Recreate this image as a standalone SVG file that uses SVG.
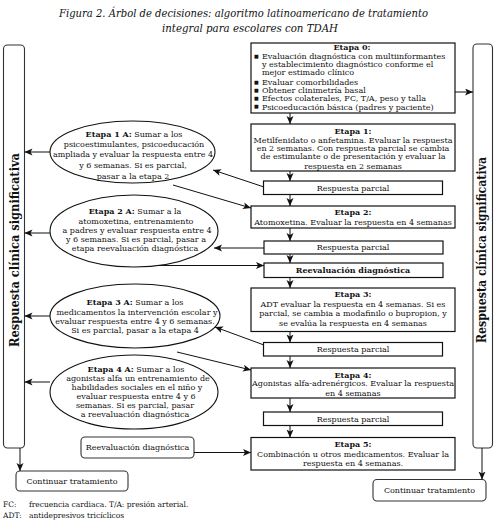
<svg xmlns="http://www.w3.org/2000/svg" width="497" height="521" viewBox="0 0 497 521">
<style>
text{font-family:"DejaVu Serif","Liberation Serif",serif;fill:#111;}
.t{font-size:8px;}
.c{text-anchor:middle;}
.b{font-weight:bold;}
.bul{font-size:5px;}
.title{font-size:11px;font-style:italic;}
.vert{font-size:12px;font-weight:bold;text-anchor:middle;}
.foot{font-size:7.5px;}
.box{fill:#fff;stroke:#111;stroke-width:1.2;}
.rbox{fill:#fff;stroke:#333;stroke-width:1.1;}
.ell{fill:#fff;stroke:#111;stroke-width:1.1;}
.con line{stroke:#111;stroke-width:1;marker-end:url(#ah);}
</style>
<defs>
<marker id="ah" markerUnits="userSpaceOnUse" markerWidth="9" markerHeight="8" refX="8" refY="3.5" orient="auto">
<path d="M0,0 L8,3.5 L0,7 L2,3.5 z" fill="#111"/>
</marker>
</defs>
<rect width="497" height="521" fill="#fff"/>

<g id="title">
<text class="title" x="59" y="17" textLength="369" lengthAdjust="spacingAndGlyphs">Figura 2. Árbol de decisiones: algoritmo latinoamericano de tratamiento</text>
<text class="title" x="162" y="32" textLength="176" lengthAdjust="spacingAndGlyphs">integral para escolares con TDAH</text>
</g>

<g id="left-bar">
<rect class="rbox" x="3.5" y="45" width="21" height="403" rx="4"/>
<text class="vert" transform="translate(19,250) rotate(-90)" textLength="194" lengthAdjust="spacingAndGlyphs">Respuesta  clínica  significativa</text>
</g>
<g id="right-bar">
<rect class="rbox" x="473" y="44" width="19.5" height="404" rx="4"/>
<text class="vert" transform="translate(486,250) rotate(-90)" textLength="186" lengthAdjust="spacingAndGlyphs">Respuesta  clínica  significativa</text>
</g>

<g id="etapa0">
<rect class="box" x="251" y="43" width="204" height="70"/>
<text class="t b c" x="352" y="49.5">Etapa 0:</text>
<g class="t">
<text class="bul" x="254" y="57.5">■</text><text x="262" y="59">Evaluación diagnóstica con multiinformantes</text>
<text x="262" y="67">y establecimiento diagnóstico conforme el</text>
<text x="262" y="75">mejor estimado clínico</text>
<text class="bul" x="254" y="83.5">■</text><text x="262" y="85">Evaluar comorbilidades</text>
<text class="bul" x="254" y="91.5">■</text><text x="262" y="93">Obtener clinimetría basal</text>
<text class="bul" x="254" y="99.5">■</text><text x="262" y="101">Efectos colaterales, FC, T/A, peso y talla</text>
<text class="bul" x="254" y="108">■</text><text x="262" y="109.5">Psicoeducación básica (padres y paciente)</text>
</g>
</g>

<g id="etapa1">
<rect class="box" x="251" y="124" width="204" height="47"/>
<text class="t b c" x="353" y="133.5">Etapa 1:</text>
<text class="t c" x="353" y="143">Metilfenidato o anfetamina. Evaluar la respuesta</text>
<text class="t c" x="353" y="151">en 2 semanas. Con respuesta parcial se cambia</text>
<text class="t c" x="353" y="159">de estimulante o de presentación y evaluar la</text>
<text class="t c" x="353" y="168.5">respuesta en 2 semanas</text>
</g>

<g id="rp1">
<rect class="box" x="263.5" y="181" width="179" height="13.5"/>
<text class="t c" x="353" y="190.5">Respuesta parcial</text>
</g>

<g id="etapa2">
<rect class="box" x="251" y="206" width="204" height="22"/>
<text class="t b c" x="353" y="214.5">Etapa 2:</text>
<text class="t c" x="353" y="225">Atomoxetina. Evaluar la respuesta en 4 semanas</text>
</g>

<g id="rp2">
<rect class="box" x="264" y="241" width="179" height="13"/>
<text class="t c" x="353" y="250.3">Respuesta parcial</text>
</g>

<g id="reevaluacion">
<rect class="box" x="264" y="263" width="179" height="14.5"/>
<text class="t b c" x="353" y="273">Reevaluación diagnóstica</text>
</g>

<g id="etapa3">
<rect class="box" x="251" y="288" width="204" height="43.5"/>
<text class="t b c" x="353" y="297">Etapa 3:</text>
<text class="t c" x="353" y="307">ADT evaluar la respuesta en 4 semanas. Si es</text>
<text class="t c" x="353" y="316.3">parcial, se cambia a modafinilo o bupropion, y</text>
<text class="t c" x="353" y="326">se evalúa la respuesta en 4 semanas</text>
</g>

<g id="rp3">
<rect class="box" x="263.5" y="342.5" width="179" height="13.5"/>
<text class="t c" x="353" y="352.3">Respuesta parcial</text>
</g>

<g id="etapa4">
<rect class="box" x="251" y="368" width="204" height="30"/>
<text class="t b c" x="353" y="378">Etapa 4:</text>
<text class="t c" x="353" y="386.3">Agonistas alfa-adrenérgicos. Evaluar la respuesta</text>
<text class="t c" x="353" y="395.7">en 4 semanas</text>
</g>

<g id="rp4">
<rect class="box" x="263.5" y="412" width="179" height="13.5"/>
<text class="t c" x="353" y="421.7">Respuesta parcial</text>
</g>

<g id="etapa5">
<rect class="box" x="251" y="437.5" width="204" height="32.5"/>
<text class="t b c" x="353" y="447">Etapa 5:</text>
<text class="t c" x="353" y="457">Combinación u otros medicamentos.  Evaluar la</text>
<text class="t c" x="353" y="465.7">respuesta en 4 semanas.</text>
</g>

<g id="etapa1A">
<ellipse class="ell" cx="132.5" cy="152" rx="82.5" ry="31"/>
<text class="t c" x="134" y="137"><tspan class="b">Etapa 1 A:</tspan> Sumar  a los</text>
<text class="t c" x="134" y="147.3">psicoestimulantes, psicoeducación</text>
<text class="t c" x="133" y="157.3" textLength="160" lengthAdjust="spacingAndGlyphs">ampliada y evaluar la respuesta entre 4</text>
<text class="t c" x="133" y="168">y 6 semanas. Si es parcial,</text>
<text class="t c" x="133" y="178.6">pasar a la etapa 2</text>
</g>

<g id="etapa2A">
<ellipse class="ell" cx="134" cy="231" rx="84" ry="36"/>
<text class="t c" x="135" y="213.7"><tspan class="b">Etapa 2 A:</tspan> Sumar  a la</text>
<text class="t c" x="136" y="223.5">atomoxetina, entrenamiento</text>
<text class="t c" x="137" y="233">a padres y evaluar respuesta entre 4</text>
<text class="t c" x="136" y="242">y 6 semanas. Si es parcial, pasar a</text>
<text class="t c" x="135" y="251.2">etapa reevaluación diagnóstica</text>
</g>

<g id="etapa3A">
<ellipse class="ell" cx="135" cy="316" rx="85" ry="32"/>
<text class="t c" x="135" y="305.2"><tspan class="b">Etapa 3 A:</tspan> Sumar a  los</text>
<text class="t c" x="137" y="314.5">medicamentos la intervención escolar y</text>
<text class="t c" x="135" y="323.5">evaluar respuesta entre 4 y 6 semanas.</text>
<text class="t c" x="135" y="333">Si es parcial, pasar a la etapa 4</text>
</g>

<g id="etapa4A">
<ellipse class="ell" cx="134" cy="392" rx="84" ry="37"/>
<text class="t c" x="136" y="372"><tspan class="b">Etapa 4 A:</tspan> Sumar a los</text>
<text class="t c" x="138" y="381.2">agonistas alfa un entrenamiento de</text>
<text class="t c" x="137" y="390.2">habilidades sociales en el niño y</text>
<text class="t c" x="136" y="399">evaluar respuesta entre 4 y 6</text>
<text class="t c" x="135" y="408">semanas. Si es parcial, pasar</text>
<text class="t c" x="135" y="417">a reevaluación diagnóstica</text>
</g>

<g id="reevaluacion2">
<rect class="rbox" x="81" y="437" width="113" height="21" rx="4"/>
<text class="t c" x="137.5" y="450.3">Reevaluación diagnóstica</text>
</g>

<g id="continuar-left">
<rect class="rbox" x="16" y="471" width="112" height="20" rx="4"/>
<text class="t c" x="72" y="484">Continuar tratamiento</text>
</g>

<g id="continuar-right">
<rect class="rbox" x="373" y="479.5" width="113" height="21.5" rx="4"/>
<text class="t c" x="429.5" y="493.3">Continuar tratamiento</text>
</g>

<g id="connectors" class="con">
<line x1="290" y1="113" x2="290" y2="124"/>
<line x1="455" y1="92" x2="473" y2="92"/>
<line x1="290" y1="171" x2="290" y2="181"/>
<line x1="290" y1="194.5" x2="290" y2="206"/>
<line x1="264" y1="187" x2="213" y2="170"/>
<line x1="173" y1="185" x2="251" y2="208"/>
<line x1="50" y1="152" x2="24.5" y2="152"/>
<line x1="290" y1="228" x2="290" y2="241"/>
<line x1="264" y1="248" x2="214" y2="248"/>
<line x1="290" y1="254" x2="290" y2="263"/>
<line x1="157" y1="265.5" x2="264" y2="265.5"/>
<line x1="50" y1="233" x2="24.5" y2="233"/>
<line x1="290" y1="277.5" x2="290" y2="288"/>
<line x1="290" y1="331.5" x2="290" y2="342.5"/>
<line x1="264" y1="345" x2="215" y2="327"/>
<line x1="290" y1="356" x2="290" y2="368"/>
<line x1="177" y1="352" x2="251" y2="370"/>
<line x1="50" y1="316" x2="24.5" y2="316"/>
<line x1="290" y1="398" x2="290" y2="412"/>
<line x1="290" y1="425.5" x2="290" y2="437.5"/>
<line x1="50" y1="382" x2="24.5" y2="382"/>
<line x1="194" y1="452.5" x2="251" y2="452.5"/>
<line x1="20" y1="448" x2="20" y2="471"/>
<line x1="482" y1="448" x2="482" y2="479.5"/>
</g>

<g id="footnotes">
<text class="foot" x="3" y="507">FC:</text>
<text class="foot" x="29" y="507">frecuencia cardiaca. T/A: presión arterial.</text>
<text class="foot" x="3" y="518">ADT:</text>
<text class="foot" x="29" y="518">antidepresivos tricíclicos</text>
</g>
</svg>
